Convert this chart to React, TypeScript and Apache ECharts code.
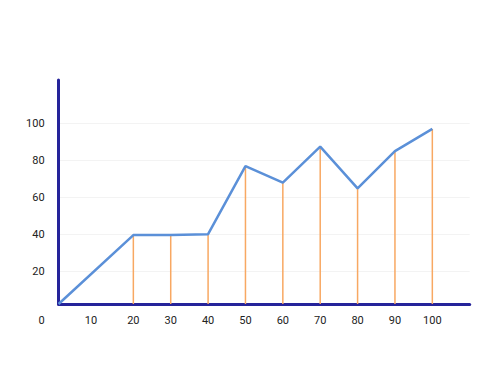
import React, { useEffect, useRef } from "react";
import * as echarts from "echarts";

const xValues = [0, 20, 30, 40, 50, 60, 70, 80, 90, 100];
const yValues = [2.2, 39.5, 39.6, 40, 76.9, 67.9, 87.4, 64.8, 85, 97];
const yTickValues = [20, 40, 60, 80, 100];
const xTickValues = [0, 10, 20, 30, 40, 50, 60, 70, 80, 90, 100];
const axisBase = 2.2;

const NAVY = "#25239a";
const BLUE = "#5b90d8";
const ORANGE = "#f8a862";
const FONT = "Roboto";

export default function App() {
  const ref = useRef<HTMLDivElement>(null);
  useEffect(() => {
    if (!ref.current) return;
    const chart = echarts.init(ref.current, null, { renderer: "svg" });
    const points = xValues.map((x, i) => [x, yValues[i]]);
    chart.setOption({
      animation: false,
      backgroundColor: "#ffffff",
      grid: { left: 58.6, right: 30.3, top: 80, bottom: 71 },
      xAxis: {
        type: "value",
        min: 0,
        max: 110,
        interval: 10,
        axisLine: { show: true, onZero: false, lineStyle: { color: NAVY, width: 3 } },
        axisTick: { show: false },
        splitLine: { show: false },
        axisLabel: {
          margin: 11,
          color: "#222",
          fontSize: 11,
          fontFamily: FONT,
          formatter: (v: number) => {
            if (!xTickValues.includes(v)) return "";
            if (v === 0) return "{z|0}";
            if (v === 10) return "{t|10}";
            return String(v);
          },
          rich: {
            z: { padding: [0, 34, 0, 0], color: "#222", fontSize: 11, fontFamily: FONT },
            t: { padding: [0, 10, 0, 0], color: "#222", fontSize: 11, fontFamily: FONT },
          },
        },
      },
      yAxis: {
        type: "value",
        min: axisBase,
        max: 123.5,
        axisLine: { show: true, lineStyle: { color: NAVY, width: 3 } },
        axisTick: { show: false, customValues: yTickValues },
        splitLine: { show: true, lineStyle: { color: "#f3f3f3", width: 1 } },
        axisLabel: {
          customValues: yTickValues,
          margin: 14,
          color: "#222",
          fontSize: 11,
          fontFamily: FONT,
        },
      },
      series: [
        {
          type: "custom",
          z: 1,
          data: points.filter((p) => p[0] > 0),
          renderItem: (params: any, api: any) => {
            const x = api.value(0);
            const y = api.value(1);
            const top = api.coord([x, y]);
            const bottom = api.coord([x, axisBase]);
            return {
              type: "line",
              shape: { x1: top[0], y1: top[1], x2: bottom[0], y2: bottom[1] },
              style: { stroke: ORANGE, lineWidth: 1.5 },
            };
          },
        },
        {
          type: "line",
          z: 3,
          data: points,
          symbol: "none",
          lineStyle: { color: BLUE, width: 2.5 },
        },
      ],
    });
    return () => chart.dispose();
  }, []);
  return <div ref={ref} style={{ width: 500, height: 375, margin: -8 }} />;
}
